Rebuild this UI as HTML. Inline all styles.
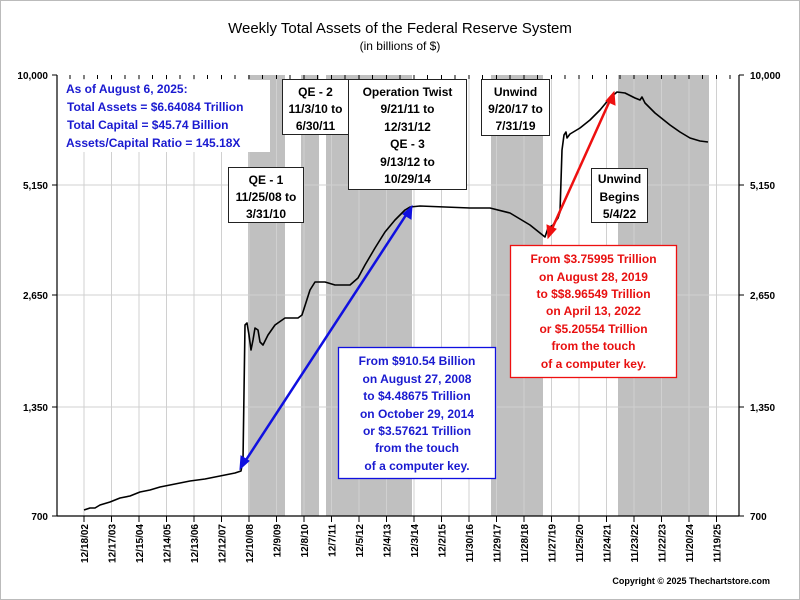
<!DOCTYPE html>
<html><head><meta charset="utf-8"><style>
body{margin:0;background:#fff}
svg{display:block;font-family:"Liberation Sans",Arial,sans-serif}
</style></head><body>
<svg width="800" height="600" viewBox="0 0 800 600" xmlns="http://www.w3.org/2000/svg">
<rect x="0.5" y="0.5" width="799" height="599" fill="#fff" stroke="#bbb"/>
<text x="400" y="33" font-size="15" text-anchor="middle" fill="#000">Weekly Total Assets of the Federal Reserve System</text>
<text x="400" y="50" font-size="12" text-anchor="middle" fill="#000">(in billions of $)</text>
<g fill="#c0c0c0">
<rect x="248" y="75" width="37" height="441"/>
<rect x="301" y="75" width="18" height="441"/>
<rect x="326" y="75" width="86" height="441"/>
<rect x="491" y="75" width="52" height="441"/>
<rect x="618" y="75" width="91" height="441"/>
</g>
<g stroke="#d0d0d0" stroke-width="1">
<line x1="57" y1="185" x2="739" y2="185"/>
<line x1="57" y1="295" x2="739" y2="295"/>
<line x1="57" y1="407" x2="739" y2="407"/>
<line x1="84" y1="75" x2="84" y2="516"/><line x1="111.5" y1="75" x2="111.5" y2="516"/><line x1="139" y1="75" x2="139" y2="516"/><line x1="166.5" y1="75" x2="166.5" y2="516"/><line x1="194" y1="75" x2="194" y2="516"/><line x1="221.5" y1="75" x2="221.5" y2="516"/><line x1="249" y1="75" x2="249" y2="516"/><line x1="276.5" y1="75" x2="276.5" y2="516"/><line x1="304" y1="75" x2="304" y2="516"/><line x1="331.5" y1="75" x2="331.5" y2="516"/><line x1="359" y1="75" x2="359" y2="516"/><line x1="386.5" y1="75" x2="386.5" y2="516"/><line x1="414" y1="75" x2="414" y2="516"/><line x1="441.5" y1="75" x2="441.5" y2="516"/><line x1="469" y1="75" x2="469" y2="516"/><line x1="496.5" y1="75" x2="496.5" y2="516"/><line x1="524" y1="75" x2="524" y2="516"/><line x1="551.5" y1="75" x2="551.5" y2="516"/><line x1="579" y1="75" x2="579" y2="516"/><line x1="606.5" y1="75" x2="606.5" y2="516"/><line x1="634" y1="75" x2="634" y2="516"/><line x1="661.5" y1="75" x2="661.5" y2="516"/><line x1="689" y1="75" x2="689" y2="516"/><line x1="716.5" y1="75" x2="716.5" y2="516"/>
</g>
<g stroke="#000" stroke-width="1.2">
<line x1="57" y1="75" x2="57" y2="516"/>
<line x1="739" y1="75" x2="739" y2="516"/>
<line x1="57" y1="516" x2="739" y2="516"/>
</g>
<g stroke="#000" stroke-width="1">
<path d="M57 75h-5M57 185h-5M57 295h-5M57 407h-5M57 516h-5M739 75h5M739 185h5M739 295h5M739 407h5M739 516h5"/>
<path d="M84 516v6M111.5 516v6M139 516v6M166.5 516v6M194 516v6M221.5 516v6M249 516v6M276.5 516v6M304 516v6M331.5 516v6M359 516v6M386.5 516v6M414 516v6M441.5 516v6M469 516v6M496.5 516v6M524 516v6M551.5 516v6M579 516v6M606.5 516v6M634 516v6M661.5 516v6M689 516v6M716.5 516v6"/>
<path d="M70 75v4M84 75v4M97.5 75v4M111.5 75v4M125 75v4M139 75v4M152.5 75v4M166.5 75v4M180 75v4M194 75v4M207.5 75v4M221.5 75v4M235 75v4M249 75v4M262.5 75v4M276.5 75v4M290 75v4M304 75v4M317.5 75v4M331.5 75v4M345 75v4M359 75v4M372.5 75v4M386.5 75v4M400 75v4M414 75v4M427.5 75v4M441.5 75v4M455 75v4M469 75v4M482.5 75v4M496.5 75v4M510 75v4M524 75v4M537.5 75v4M551.5 75v4M565 75v4M579 75v4M592.5 75v4M606.5 75v4M620 75v4M634 75v4M647.5 75v4M661.5 75v4M675 75v4M689 75v4M702.5 75v4M716.5 75v4M730 75v4"/>
</g>
<g font-size="10" font-weight="bold" fill="#000">
<text x="48" y="79" text-anchor="end">10,000</text>
<text x="48" y="189" text-anchor="end">5,150</text>
<text x="48" y="299" text-anchor="end">2,650</text>
<text x="48" y="411" text-anchor="end">1,350</text>
<text x="48" y="520" text-anchor="end">700</text>
<text x="750" y="79">10,000</text>
<text x="750" y="189">5,150</text>
<text x="750" y="299">2,650</text>
<text x="750" y="411">1,350</text>
<text x="750" y="520">700</text>
</g>
<g font-size="10" font-weight="bold" fill="#000" text-anchor="end">
<text transform="translate(88,524) rotate(-90)">12/18/02</text>
<text transform="translate(115.5,524) rotate(-90)">12/17/03</text>
<text transform="translate(143,524) rotate(-90)">12/15/04</text>
<text transform="translate(170.5,524) rotate(-90)">12/14/05</text>
<text transform="translate(198,524) rotate(-90)">12/13/06</text>
<text transform="translate(225.5,524) rotate(-90)">12/12/07</text>
<text transform="translate(253,524) rotate(-90)">12/10/08</text>
<text transform="translate(280.5,524) rotate(-90)">12/9/09</text>
<text transform="translate(308,524) rotate(-90)">12/8/10</text>
<text transform="translate(335.5,524) rotate(-90)">12/7/11</text>
<text transform="translate(363,524) rotate(-90)">12/5/12</text>
<text transform="translate(390.5,524) rotate(-90)">12/4/13</text>
<text transform="translate(418,524) rotate(-90)">12/3/14</text>
<text transform="translate(445.5,524) rotate(-90)">12/2/15</text>
<text transform="translate(473,524) rotate(-90)">11/30/16</text>
<text transform="translate(500.5,524) rotate(-90)">11/29/17</text>
<text transform="translate(528,524) rotate(-90)">11/28/18</text>
<text transform="translate(555.5,524) rotate(-90)">11/27/19</text>
<text transform="translate(583,524) rotate(-90)">11/25/20</text>
<text transform="translate(610.5,524) rotate(-90)">11/24/21</text>
<text transform="translate(638,524) rotate(-90)">11/23/22</text>
<text transform="translate(665.5,524) rotate(-90)">11/22/23</text>
<text transform="translate(693,524) rotate(-90)">11/20/24</text>
<text transform="translate(720.5,524) rotate(-90)">11/19/25</text>
</g>
<text x="770" y="584" font-size="9" font-weight="bold" text-anchor="end">Copyright © 2025 Thechartstore.com</text>
<polyline fill="none" stroke="#000" stroke-width="1.6" stroke-linejoin="round" points="84,510 90,508 95,508 100,505 110,502 120,498 130,496 140,492 150,490 160,487 175,484 190,481 205,479 220,476 235,473 241,471 243,460 245,325 247,323 249,335 251,350 253,340 255,328 258,330 260,342 263,345 268,335 275,325 285,318 298,318 302,315 310,290 315,282 325,282 335,285 350,285 358,278 365,265 375,248 385,232 395,220 405,210 410,207 420,206 470,208 490,208 510,213 530,225 545,237 548,228 553,225 558,218 560,212 562,150 564,135 566,132 567,138 570,134 580,128 590,120 600,110 610,98 617,92 625,93 635,98 640,100 642,97 645,103 655,113 670,125 680,132 690,138 700,141 708,142"/>
<g stroke="#1010e0" stroke-width="2.5" fill="#1010e0">
<line x1="244" y1="463" x2="408" y2="212"/>
<path d="M240,469 L241,456 L249,461 Z" stroke-width="1"/>
<path d="M412,206 L411,219 L403,214 Z" stroke-width="1"/>
</g>
<g stroke="#ee1010" stroke-width="2.5" fill="#ee1010">
<line x1="551" y1="231" x2="611" y2="98"/>
<path d="M548,238 L547,225 L556,229 Z" stroke-width="1"/>
<path d="M614,92 L615,105 L606,101 Z" stroke-width="1"/>
</g>
<rect x="63" y="80" width="207" height="72" fill="#fff"/>
<g font-size="12" font-weight="bold" fill="#1a1ad0">
<text x="66" y="93">As of August 6, 2025:</text>
<text x="67" y="111">Total Assets = $6.64084 Trillion</text>
<text x="67" y="129">Total Capital  = $45.74 Billion</text>
<text x="66" y="147">Assets/Capital Ratio = 145.18X</text>
</g>
<g fill="#fff" stroke="#222" stroke-width="1">
<rect x="282.5" y="79.5" width="66" height="55"/>
<rect x="348.5" y="79.5" width="118" height="110"/>
<rect x="228.5" y="167.5" width="75" height="55"/>
<rect x="481.5" y="79.5" width="68" height="56"/>
<rect x="591.5" y="168.5" width="56" height="54"/>
</g>
<g font-size="12" font-weight="bold" fill="#000" text-anchor="middle">
<text x="315.5" y="96">QE - 2</text><text x="315.5" y="113">11/3/10 to</text><text x="315.5" y="130">6/30/11</text>
<text x="407.5" y="96">Operation Twist</text><text x="407.5" y="113">9/21/11 to</text><text x="407.5" y="131">12/31/12</text><text x="407.5" y="148">QE - 3</text><text x="407.5" y="166">9/13/12 to</text><text x="407.5" y="183">10/29/14</text>
<text x="266" y="184">QE - 1</text><text x="266" y="201">11/25/08 to</text><text x="266" y="218">3/31/10</text>
<text x="515.5" y="96">Unwind</text><text x="515.5" y="113">9/20/17 to</text><text x="515.5" y="130">7/31/19</text>
<text x="619.5" y="183">Unwind</text><text x="619.5" y="201">Begins</text><text x="619.5" y="218">5/4/22</text>
</g>
<rect x="338.5" y="347.5" width="157" height="131" fill="#fff" stroke="#1010e0" stroke-width="1.3"/>
<g font-size="12" font-weight="bold" fill="#1a1ad0" text-anchor="middle">
<text x="417" y="365">From $910.54 Billion</text>
<text x="417" y="383">on August 27, 2008</text>
<text x="417" y="400">to $4.48675 Trillion</text>
<text x="417" y="418">on October 29, 2014</text>
<text x="417" y="435">or $3.57621 Trillion</text>
<text x="417" y="452">from the touch</text>
<text x="417" y="470">of a computer key.</text>
</g>
<rect x="510.5" y="245.5" width="166" height="132" fill="#fff" stroke="#ee1010" stroke-width="1.3"/>
<g font-size="12" font-weight="bold" fill="#e81010" text-anchor="middle">
<text x="593.5" y="263">From $3.75995 Trillion</text>
<text x="593.5" y="281">on August 28, 2019</text>
<text x="593.5" y="298">to $$8.96549 Trillion</text>
<text x="593.5" y="315">on April 13, 2022</text>
<text x="593.5" y="333">or $5.20554 Trillion</text>
<text x="593.5" y="350">from the touch</text>
<text x="593.5" y="368">of a computer key.</text>
</g>
</svg>
</body></html>
